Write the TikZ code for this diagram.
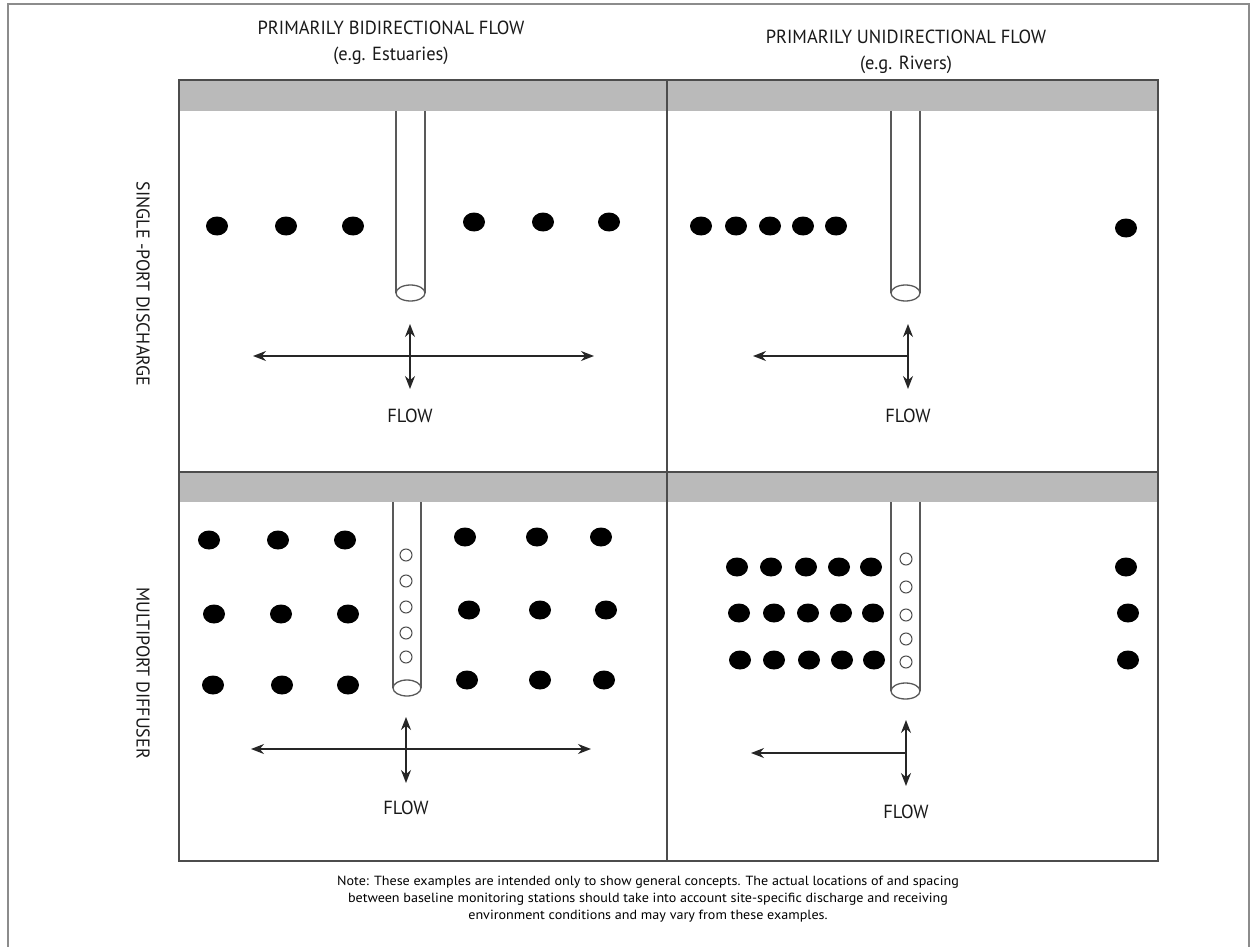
\documentclass[tikz,border=0pt]{standalone}
\usepackage{fontspec}
\setmainfont{PT Sans}
\newfontfamily\condfont[FakeStretch=0.97]{PT Sans}
\newfontfamily\notefont[FakeStretch=1.06]{PT Sans}
\usetikzlibrary{arrows.meta}
\begin{document}
\begin{tikzpicture}[x=1pt,y=-1pt,
  frameline/.style={draw=black!45,line width=1.6pt},
  gridline/.style={draw=black!70,line width=1.8pt},
  band/.style={fill=black!27},
  pipe/.style={draw=black!65,line width=1.3pt},
  station/.style={fill=black},
  port/.style={draw=black!70,line width=1pt,fill=white},
  tip/.tip={Stealth[length=13pt,width=10pt]},
  flowboth/.style={draw=black!85,line width=1.4pt,tip-tip},
  flowleft/.style={draw=black!85,line width=1.4pt,-tip},
  head/.style={font=\condfont\fontsize{19}{26}\selectfont,align=center,inner sep=0pt,text=black!90},
  lab/.style={font=\condfont\fontsize{19}{22}\selectfont,inner sep=0pt,text=black!90},
  side/.style={font=\condfont\fontsize{18.5}{20}\selectfont,inner sep=0pt,rotate=-90,text=black!90},
  note/.style={font=\notefont\fontsize{13.3}{17}\selectfont,align=center,inner sep=0pt,text=black}
]
\useasboundingbox (0,0) rectangle (1251,947);
\fill[white] (0,0) rectangle (1251,947);
% outer frame
\draw[frameline] (8,950) -- (8,4) -- (1249,4) -- (1249,950);

% headers
\node[head] (h1) at (391,43) {PRIMARILY BIDIRECTIONAL FLOW\\(e.g. Estuaries)};
\node[head] (h2) at (906,52) {PRIMARILY UNIDIRECTIONAL FLOW\\(e.g. Rivers)};

% side labels
\node[side] (s1) at (143,284) {SINGLE -PORT DISCHARGE};
\node[side] (s2) at (143,673) {MULTIPORT DIFFUSER};

% bands and grid
\fill[band] (179,80) rectangle (1158,111);
\fill[band] (179,472) rectangle (1158,502);
\draw[gridline] (179,80) rectangle (1158,861);
\draw[gridline] (667,80) -- (667,861);
\draw[gridline] (179,472) -- (1158,472);

% ---------- top-left: single port, bidirectional ----------
\draw[pipe] (396,111) -- (396,293);
\draw[pipe] (425,111) -- (425,293);
\draw[pipe,fill=white] (410.5,293) ellipse (14.5 and 8);
\foreach \x/\y in {217/226,286/226,353/226,474/222,543/222,609/222}
  \fill[station] (\x,\y) ellipse (11 and 9.5);
\coordinate (a1l) at (253,356);
\coordinate (a1r) at (594,356);
\coordinate (a1t) at (410,324);
\coordinate (a1b) at (410,389);
\draw[flowboth] (a1l) -- (a1r);
\draw[flowboth] (a1t) -- (a1b);
\node[lab] (f1) at (410,416) {FLOW};

% ---------- top-right: single port, unidirectional ----------
\draw[pipe] (891,111) -- (891,293);
\draw[pipe] (920,111) -- (920,293);
\draw[pipe,fill=white] (905.5,293) ellipse (14.5 and 8);
\foreach \x/\y in {701/226,736/226,770/226,803/226,836/226,1126/228}
  \fill[station] (\x,\y) ellipse (11 and 9.5);
\coordinate (a2o) at (908,356);
\coordinate (a2l) at (753,356);
\coordinate (a2t) at (908,324);
\coordinate (a2b) at (908,389);
\draw[flowleft] (a2o) -- (a2l);
\draw[flowboth] (a2t) -- (a2b);
\node[lab] (f2) at (908,416) {FLOW};

% ---------- bottom-left: multiport, bidirectional ----------
\draw[pipe] (393,502) -- (393,688);
\draw[pipe] (421,502) -- (421,688);
\draw[pipe,fill=white] (407,688) ellipse (14 and 8);
\foreach \y in {555,581,607,633,657}
  \draw[port] (406,\y) circle (6);
\foreach \x/\y in {209/540,278/540,345/540,465/537,537/537,601/537,
                   214/614,281/614,348/614,469/610,540/610,606/610,
                   213/685,282/685,348/685,467/680,540/680,604/680}
  \fill[station] (\x,\y) ellipse (11 and 9.5);
\coordinate (a3l) at (251,749);
\coordinate (a3r) at (591,749);
\coordinate (a3t) at (406,717);
\coordinate (a3b) at (406,783);
\draw[flowboth] (a3l) -- (a3r);
\draw[flowboth] (a3t) -- (a3b);
\node[lab] (f3) at (406,808) {FLOW};

% ---------- bottom-right: multiport, unidirectional ----------
\draw[pipe] (891,502) -- (891,691);
\draw[pipe] (920,502) -- (920,691);
\draw[pipe,fill=white] (905.5,691) ellipse (14.5 and 8);
\foreach \y in {559,587,615,639,662}
  \draw[port] (906,\y) circle (6);
\foreach \x/\y in {737/567,771/567,806/567,839/567,871/567,1126/567,
                   739/613,774/613,808/613,841/613,873/613,1128/613,
                   740/660,774/660,809/660,842/660,874/660,1128/660}
  \fill[station] (\x,\y) ellipse (11 and 9.5);
\coordinate (a4o) at (906,753);
\coordinate (a4l) at (751,753);
\coordinate (a4t) at (906,720);
\coordinate (a4b) at (906,786);
\draw[flowleft] (a4o) -- (a4l);
\draw[flowboth] (a4t) -- (a4b);
\node[lab] (f4) at (906,812) {FLOW};

% note
\node[note] (n1) at (648,899) {Note: These examples are intended only to show general concepts. The actual locations of and spacing\\
between baseline monitoring stations should take into account site-specific discharge and receiving\\
environment conditions and may vary from these examples.};
\end{tikzpicture}
\end{document}
